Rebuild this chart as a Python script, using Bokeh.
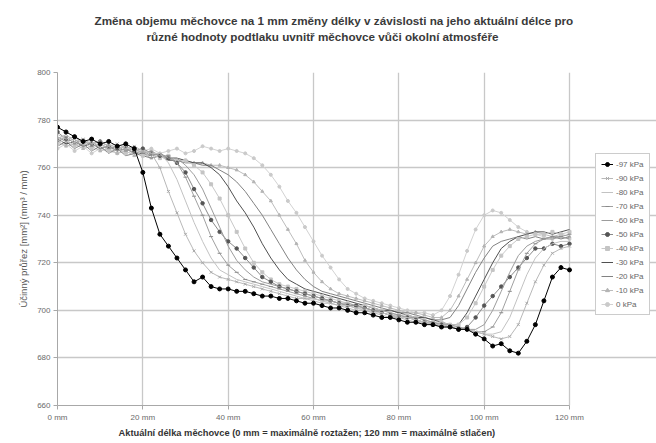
from bokeh.plotting import figure
from bokeh.models import Range1d, Title, Legend, LegendItem, FixedTicker
from bokeh.embed import file_html
from bokeh.resources import INLINE

# ---------------- data ----------------
length_mm = [0, 2, 4, 6, 8, 10, 12, 14, 16, 18,
             20, 22, 24, 26, 28, 30, 32, 34, 36, 38,
             40, 42, 44, 46, 48, 50, 52, 54, 56, 58,
             60, 62, 64, 66, 68, 70, 72, 74, 76, 78,
             80, 82, 84, 86, 88, 90, 92, 94, 96, 98,
             100, 102, 104, 106, 108, 110, 112, 114, 116, 118,
             120]

s_97 = [777, 775, 773, 771, 772, 770, 771, 769, 770, 768,
        758, 743, 732, 727, 722, 717, 712, 714, 710, 709,
        709, 708, 708, 707, 706, 706, 705, 705, 704, 703,
        703, 702, 701, 701, 700, 699, 699, 698, 697, 697,
        696, 695, 695, 694, 694, 693, 693, 692, 692, 690,
        688, 685, 686, 683, 682, 687, 694, 704, 714, 718,
        717]
s_90 = [772, 774, 771, 772, 770, 771, 769, 770, 768, 769,
        767, 766, 760, 750, 741, 732, 725, 720, 716, 714,
        713, 712, 711, 710, 709, 708, 707, 706, 705, 705,
        704, 703, 703, 702, 701, 700, 700, 699, 698, 697,
        697, 696, 695, 695, 694, 693, 693, 692, 692, 691,
        690, 689, 688, 689, 694, 703, 712, 719, 724, 726,
        727]
s_80 = [774, 772, 773, 770, 771, 769, 770, 768, 769, 767,
        767, 766, 766, 762, 755, 746, 737, 729, 722, 717,
        715, 713, 712, 711, 710, 709, 708, 707, 706, 705,
        705, 704, 703, 702, 702, 701, 700, 699, 699, 698,
        697, 697, 696, 695, 694, 694, 693, 692, 692, 691,
        690, 690, 691, 697, 706, 715, 722, 726, 728, 729,
        729]
s_70 = [771, 773, 770, 772, 769, 770, 768, 769, 767, 768,
        766, 767, 765, 765, 762, 756, 748, 740, 731, 724,
        719, 716, 713, 712, 711, 710, 709, 708, 707, 706,
        705, 704, 704, 703, 702, 701, 701, 700, 699, 698,
        698, 697, 696, 695, 695, 694, 693, 693, 692, 691,
        691, 693, 699, 708, 717, 724, 728, 730, 731, 731,
        732]
s_60 = [773, 771, 772, 769, 771, 768, 769, 767, 768, 766,
        767, 765, 766, 764, 764, 761, 757, 751, 743, 735,
        727, 721, 717, 714, 712, 711, 710, 709, 708, 707,
        706, 705, 704, 703, 703, 702, 701, 700, 700, 699,
        698, 697, 697, 696, 695, 694, 694, 693, 692, 692,
        694, 700, 708, 716, 723, 727, 729, 730, 730, 731,
        730]
s_50 = [775, 772, 773, 771, 770, 771, 769, 768, 769, 767,
        768, 766, 765, 764, 762, 758, 751, 745, 738, 733,
        729, 726, 722, 718, 714, 712, 710, 709, 708, 707,
        706, 705, 704, 703, 702, 702, 701, 700, 699, 698,
        697, 697, 696, 695, 694, 694, 693, 692, 693, 697,
        702, 706, 710, 714, 718, 722, 726, 726, 728, 727,
        728]
s_40 = [770, 772, 769, 771, 768, 770, 767, 768, 766, 767,
        765, 766, 764, 765, 763, 763, 761, 758, 753, 747,
        740, 733, 726, 720, 716, 713, 711, 710, 709, 708,
        707, 706, 705, 704, 703, 702, 702, 701, 700, 699,
        698, 698, 697, 696, 695, 695, 694, 694, 697, 703,
        710, 717, 723, 727, 730, 731, 732, 732, 733, 732,
        733]
s_30 = [772, 770, 771, 769, 770, 768, 769, 767, 768, 766,
        766, 765, 766, 764, 764, 763, 762, 762, 760, 757,
        752, 746, 741, 735, 728, 722, 717, 713, 711, 709,
        708, 707, 706, 705, 704, 703, 702, 701, 700, 700,
        699, 698, 697, 697, 696, 695, 694, 694, 699, 706,
        713, 720, 726, 729, 731, 732, 733, 733, 732, 733,
        734]
s_20 = [769, 771, 768, 770, 767, 769, 766, 768, 765, 766,
        765, 764, 765, 763, 763, 762, 762, 761, 761, 759,
        757, 754, 750, 745, 740, 734, 728, 722, 717, 713,
        710, 708, 707, 706, 705, 704, 703, 702, 701, 700,
        699, 699, 698, 697, 696, 696, 697, 702, 709, 716,
        722, 727, 729, 730, 731, 730, 731, 730, 731, 730,
        731]
s_10 = [771, 769, 770, 768, 769, 767, 768, 766, 767, 765,
        766, 764, 765, 764, 763, 763, 762, 762, 761, 761,
        760, 759, 757, 754, 750, 746, 740, 734, 728, 721,
        716, 712, 709, 707, 706, 705, 704, 703, 702, 701,
        700, 699, 699, 698, 697, 697, 700, 706, 713, 720,
        727, 731, 733, 734, 733, 732, 733, 732, 731, 732,
        731]
s_0 = [768, 770, 767, 769, 766, 768, 767, 766, 768, 767,
       767, 768, 766, 767, 768, 766, 767, 769, 768, 767,
       768, 767, 766, 764, 761, 757, 752, 746, 741, 735,
       729, 723, 718, 713, 709, 707, 705, 704, 703, 702,
       701, 700, 699, 699, 698, 700, 706, 715, 725, 734,
       740, 742, 741, 738, 735, 733, 732, 731, 730, 731,
       730]

series_names = ["-97 kPa", "-90 kPa", "-80 kPa", "-70 kPa", "-60 kPa", "-50 kPa",
                "-40 kPa", "-30 kPa", "-20 kPa", "-10 kPa", "0 kPa"]
series_values = [s_97, s_90, s_80, s_70, s_60, s_50, s_40, s_30, s_20, s_10, s_0]

x_min, x_max = 0, 120
y_min, y_max = 660, 800
x_ticks = [0, 20, 40, 60, 80, 100, 120]
x_tick_labels = ["0 mm", "20 mm", "40 mm", "60 mm", "80 mm", "100 mm", "120 mm"]
y_ticks = [660, 680, 700, 720, 740, 760, 780, 800]

title_line1 = "Změna objemu měchovce na 1 mm změny délky v závislosti na jeho aktuální délce pro"
title_line2 = "různé hodnoty podtlaku uvnitř měchovce vůči okolní atmosféře"
x_label = "Aktuální délka měchovce (0 mm = maximálně roztažen; 120 mm = maximálně stlačen)"
y_label = "Účinný průřez [mm²] (mm³ / mm)"

# ---------------- styles ----------------
styles = [
    dict(line="#000000", lw=1.0, marker="circle", mcolor="#000000", msize=4),
    dict(line="#b8b8b8", lw=1.0, marker="x", mcolor="#a8a8a8", msize=4),
    dict(line="#c2c2c2", lw=1.0, marker=None, mcolor=None, msize=0),
    dict(line="#a0a0a0", lw=1.0, marker="dash", mcolor="#8a8a8a", msize=4),
    dict(line="#9c9c9c", lw=1.0, marker=None, mcolor=None, msize=0),
    dict(line="#8a8a8a", lw=1.0, marker="circle", mcolor="#555555", msize=3.5),
    dict(line="#c8c8c8", lw=1.0, marker="square", mcolor="#c4c4c4", msize=3),
    dict(line="#505050", lw=1.0, marker=None, mcolor=None, msize=0),
    dict(line="#828282", lw=1.0, marker=None, mcolor=None, msize=0),
    dict(line="#bcbcbc", lw=1.0, marker="triangle", mcolor="#b4b4b4", msize=3),
    dict(line="#d2d2d2", lw=1.0, marker="circle", mcolor="#cacaca", msize=3),
]

FONT = "Liberation Sans"

# The data area (0..120 mm) takes the left 512 px of the frame; the frame is
# widened to the right so that the legend can sit inside it, beside the data.
DATA_W = 512
FRAME_W = 599
x_view_max = x_min + (x_max - x_min) * FRAME_W / DATA_W

p = figure(frame_width=FRAME_W, frame_height=333,
           min_border_left=57, min_border_right=0,
           min_border_top=72, min_border_bottom=30,
           x_range=Range1d(x_min, x_view_max), y_range=Range1d(y_min, y_max),
           output_backend="svg", toolbar_location=None)

p.background_fill_color = "white"
p.border_fill_color = "white"
p.outline_line_color = None

p.grid.grid_line_color = "#c8c8c8"
p.grid.grid_line_width = 1.3
p.ygrid.bounds = (x_min, x_max)

p.xaxis.ticker = FixedTicker(ticks=x_ticks)
p.xaxis.major_label_overrides = {t: lab for t, lab in zip(x_ticks, x_tick_labels)}
p.xaxis.bounds = (x_min, x_max)
p.yaxis.ticker = FixedTicker(ticks=y_ticks)
for ax in (p.xaxis, p.yaxis):
    ax.axis_line_color = "#a8a8a8"
    ax.major_tick_line_color = "#a8a8a8"
    ax.major_tick_out = 4
    ax.major_tick_in = 0
    ax.minor_tick_line_color = None
    ax.major_label_text_font = FONT
    ax.major_label_text_font_size = "8px"
    ax.major_label_text_color = "#6a6a6a"
    ax.major_label_standoff = 3

p.yaxis.axis_label = y_label
p.yaxis.axis_label_text_font = FONT
p.yaxis.axis_label_text_font_size = "9.5px"
p.yaxis.axis_label_text_font_style = "normal"
p.yaxis.axis_label_text_color = "#555555"
p.yaxis.axis_label_standoff = 5

# draw light series first, black on top
rend = {}
for name, vals, st in reversed(list(zip(series_names, series_values, styles))):
    rs = [p.line(length_mm, vals, line_color=st["line"], line_width=st["lw"])]
    if st["marker"]:
        rs.append(p.scatter(length_mm, vals, marker=st["marker"], size=st["msize"],
                            line_color=st["mcolor"], fill_color=st["mcolor"]))
    rend[name] = rs
items = [LegendItem(label=name, renderers=rend[name]) for name in series_names]

legend = Legend(items=items, location=(538, 90))
legend.label_text_font = FONT
legend.label_text_font_size = "8px"
legend.label_text_color = "#666666"
legend.glyph_width = 12
legend.glyph_height = 10
legend.label_height = 10
legend.label_standoff = 3
legend.spacing = 4
legend.padding = 5
legend.margin = 0
legend.border_line_color = "#9a9a9a"
legend.border_line_width = 1
legend.background_fill_alpha = 1
p.add_layout(legend)

spacer = Title(text=" ", text_font=FONT, text_font_size="10px", standoff=16)
t2 = Title(text=title_line2, align="left", offset=89, standoff=1,
           text_font=FONT, text_font_size="11.7px", text_font_style="bold", text_color="#3a3a3a")
t1 = Title(text=title_line1, align="left", offset=37, standoff=1,
           text_font=FONT, text_font_size="11.7px", text_font_style="bold", text_color="#3a3a3a")
p.add_layout(spacer, "above")
p.add_layout(t2, "above")
p.add_layout(t1, "above")

xt = Title(text=x_label, align="left", offset=61, standoff=2,
           text_font=FONT, text_font_size="9.3px", text_font_style="bold", text_color="#333333")
p.add_layout(xt, "below")

open("out.html", "w").write(file_html(p, INLINE))
